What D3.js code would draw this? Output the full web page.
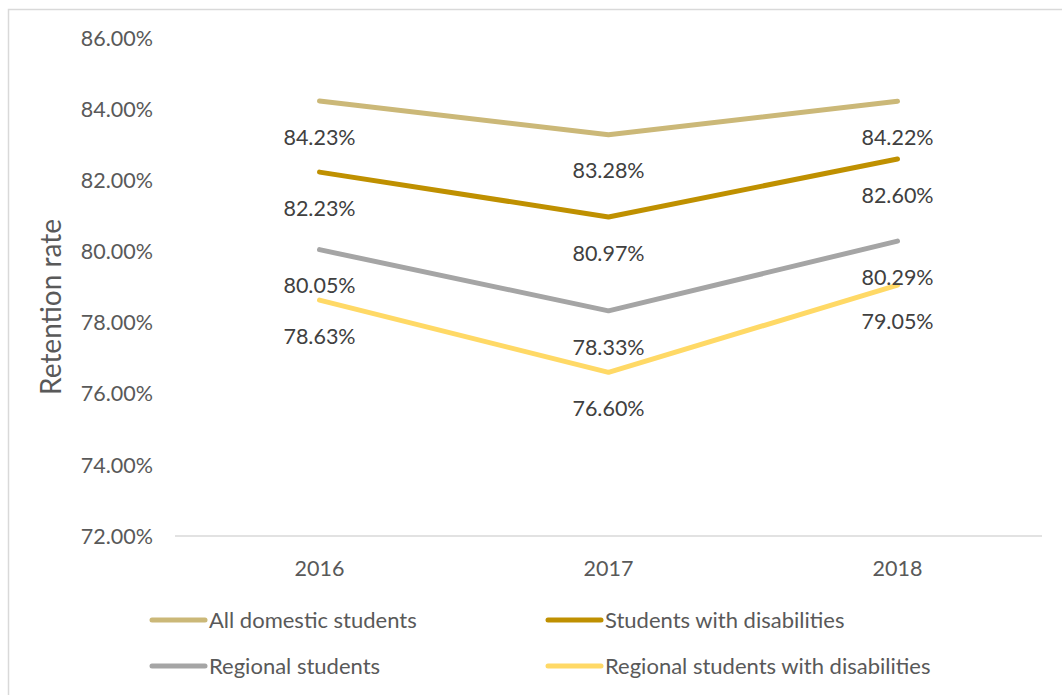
<!DOCTYPE html>
<html>
<head>
<meta charset="utf-8">
<script src="https://cdn.jsdelivr.net/npm/d3@7"></script>
<style>
  html, body { margin: 0; padding: 0; background: #fff; }
  svg { display: block; font-family: Lato, "Open Sans", sans-serif; }
</style>
</head>
<body>
<svg id="chart" width="1062" height="695"></svg>
<script>
// Retention rate by year for four student groups
const years = ["2016", "2017", "2018"];
const seriesNames = [
  "All domestic students",
  "Students with disabilities",
  "Regional students",
  "Regional students with disabilities"
];
const allDomestic = [84.23, 83.28, 84.22];
const withDisabilities = [82.23, 80.97, 82.60];
const regional = [80.05, 78.33, 80.29];
const regionalDisabilities = [78.63, 76.60, 79.05];
const yTicks = [72, 74, 76, 78, 80, 82, 84, 86];
const colors = ["#CBB878", "#BF9000", "#A5A5A5", "#FFD966"];

const seriesValues = [allDomestic, withDisabilities, regional, regionalDisabilities];
const series = seriesNames.map((name, i) => ({
  name, color: colors[i],
  values: years.map((y, j) => ({ year: y, value: seriesValues[i][j] }))
}));

const svg = d3.select("#chart");

// outer frame
svg.append("rect")
  .attr("x", 8.5).attr("y", 9.5)
  .attr("width", 1080).attr("height", 720)
  .attr("fill", "none").attr("stroke", "#D9D9D9").attr("stroke-width", 1.5);

const x = d3.scaleBand().domain(years).range([175, 1042]);
const y = d3.scaleLinear().domain([72, 86]).range([536, 38]);
const cx = d => x(d) + x.bandwidth() / 2;

// y tick labels (no gridlines)
svg.append("g").selectAll("text")
  .data(yTicks).join("text")
  .attr("x", 153).attr("y", d => y(d))
  .attr("dy", "0.36em")
  .attr("text-anchor", "end")
  .attr("font-size", 21.5)
  .attr("fill", "#595959")
  .text(d => d3.format(".2f")(d) + "%");

// category axis line
svg.append("line")
  .attr("x1", x.range()[0]).attr("x2", x.range()[1])
  .attr("y1", y(72)).attr("y2", y(72))
  .attr("stroke", "#D9D9D9").attr("stroke-width", 1.5);

svg.append("g").selectAll("text")
  .data(years).join("text")
  .attr("x", d => cx(d)).attr("y", 568)
  .attr("dy", "0.36em")
  .attr("text-anchor", "middle")
  .attr("font-size", 21.5)
  .attr("fill", "#595959")
  .text(d => d);

// axis title
svg.append("text")
  .attr("transform", "translate(51,307) rotate(-90)")
  .attr("dy", "0.36em")
  .attr("text-anchor", "middle")
  .attr("font-size", 28)
  .attr("fill", "#595959")
  .text("Retention rate");

// lines
const line = d3.line().x(d => cx(d.year)).y(d => y(d.value));
svg.append("g").selectAll("path")
  .data(series).join("path")
  .attr("d", d => line(d.values))
  .attr("fill", "none")
  .attr("stroke", d => d.color)
  .attr("stroke-width", 5)
  .attr("stroke-linecap", "round")
  .attr("stroke-linejoin", "round");

// data labels below each point
const labels = svg.append("g");
series.forEach(s => {
  labels.selectAll(null)
    .data(s.values).join("text")
    .attr("x", d => cx(d.year))
    .attr("y", d => y(d.value) + 36)
    .attr("dy", "0.36em")
    .attr("text-anchor", "middle")
    .attr("font-size", 21.5)
    .attr("fill", "#404040")
    .text(d => d3.format(".2f")(d.value) + "%");
});

// legend
const legendPos = [
  { lx: 150, ty: 620 }, { lx: 546, ty: 620 },
  { lx: 150, ty: 666 }, { lx: 546, ty: 666 }
];
const legend = svg.append("g").selectAll("g")
  .data(series).join("g")
  .attr("transform", (d, i) => `translate(${legendPos[i].lx},${legendPos[i].ty})`);
legend.append("line")
  .attr("x1", 2).attr("x2", 55).attr("y1", 0).attr("y2", 0)
  .attr("stroke", d => d.color).attr("stroke-width", 5)
  .attr("stroke-linecap", "round");
legend.append("text")
  .attr("x", 59).attr("y", 0).attr("dy", "0.36em")
  .attr("font-size", 22)
  .attr("fill", "#595959")
  .text(d => d.name);
</script>
</body>
</html>
